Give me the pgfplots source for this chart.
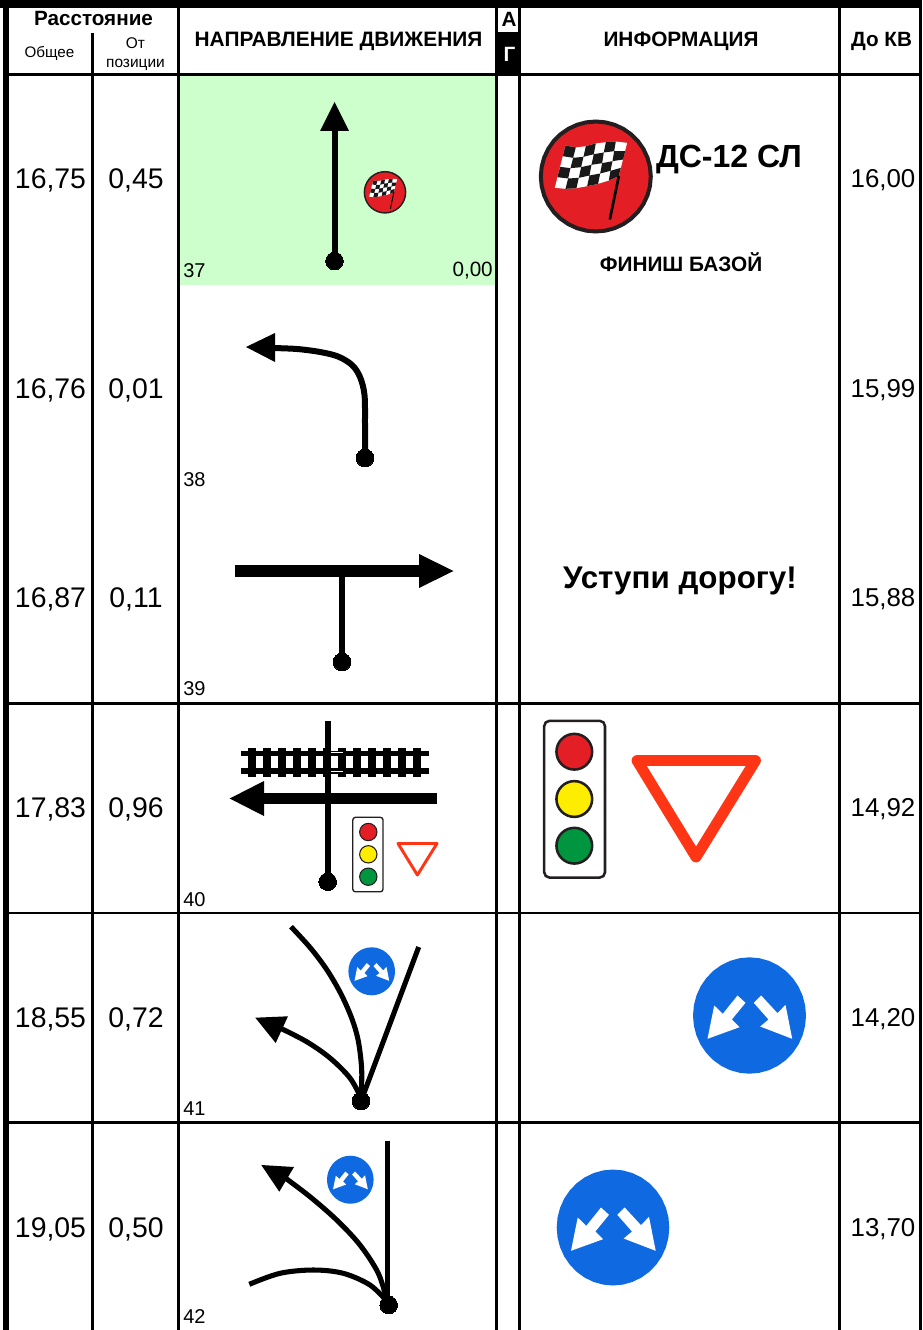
\documentclass[border=0pt]{standalone}
\usepackage{fontspec}
\setmainfont{Liberation Sans}
\usepackage{pgfplots}
\usepackage{pgfplotstable}
\pgfplotsset{compat=1.18}
\definecolor{sred}{HTML}{E31E24}
\definecolor{syel}{HTML}{FFED00}
\definecolor{sgrn}{HTML}{009640}
\definecolor{sdark}{HTML}{231F20}
\definecolor{tri}{HTML}{FF3616}
\definecolor{sblue}{HTML}{0F69E0}
\definecolor{lgreen}{HTML}{CCFFCC}

\pgfplotstableread{
x y
1 0
.9848 .1736
.9397 .342
.866 .5
.766 .6428
.6428 .766
.5 .866
.342 .9397
.1736 .9848
0 1
-.1736 .9848
-.342 .9397
-.5 .866
-.6428 .766
-.766 .6428
-.866 .5
-.9397 .342
-.9848 .1736
-1 0
-.9848 -.1736
-.9397 -.342
-.866 -.5
-.766 -.6428
-.6428 -.766
-.5 -.866
-.342 -.9397
-.1736 -.9848
0 -1
.1736 -.9848
.342 -.9397
.5 -.866
.6428 -.766
.766 -.6428
.866 -.5
.9397 -.342
.9848 -.1736
1 0
}\uc
\pgfplotstableread{
x y
-42 23.3
-35.3 -10
-26.7 -1.7
-12 -20
-4 -12.7
-17.7 4
-10 11.7
}\signL
\pgfplotstableread{
x y
42.7 23.3
36 -10.7
28 -2.3
11.7 -20
4.3 -12.7
19 4
10.7 11
}\signR
\pgfplotstableread{
x y
47 48
78 54
108 50
138 42
168 38
198 36
232 40
207 140
177 153
145 163
112 170
80 176
47 178
15 175
}\flagW
\pgfplotstableread{
x y
47 48
78 54
70 85
39 80
nan nan
108 50
138 42
132 74
101 82
nan nan
168 38
198 36
193 65
162 69
nan nan
70 85
101 82
94 113
62 116
nan nan
132 74
162 69
157 101
125 106
nan nan
193 65
226 65
220 90
188 95
nan nan
31 112
62 116
55 147
23 143
nan nan
94 113
125 106
119 138
87 145
nan nan
157 101
188 95
182 124
151 132
nan nan
55 147
87 145
80 176
47 178
nan nan
119 138
151 132
145 163
112 170
nan nan
182 124
213 115
207 140
177 153
}\flagB
\pgfplotstableread{
x y
207 140
180 270
}\flagP

\newcommand{\seg}[3]{\addplot[black,line width=#1pt,line cap=butt] coordinates {#2 #3};}
\newcommand{\crv}[2]{\addplot[black,line width=#1pt,smooth,tension=0.55] coordinates {#2};}
\newcommand{\poly}[2]{\addplot[fill=#1,draw=none] coordinates {#2};}
\newcommand{\rct}[5]{\addplot[fill=#5,draw=none] coordinates {(#1,#2) (#3,#2) (#3,#4) (#1,#4)};}
\newcommand{\dotm}[2]{\addplot[only marks,mark=*,mark size=6.6pt,mark options={fill=black,draw=black,line width=0pt}] coordinates {(#1,#2)};}
\newcommand{\lamp}[6]{\addplot[only marks,mark=*,mark size=#4pt,mark options={fill=#3,draw=#6,line width=#5pt}] coordinates {(#1,#2)};}
\newcommand{\txt}[5]{\node[anchor=#4,inner sep=0pt] at (axis cs:#1,#2) {\fontsize{#3}{#3}\selectfont #5};}
% cx cy scale radius(px)
\newcommand{\blue}[4]{%
  \addplot[fill=sblue,draw=none] table[x expr=\thisrow{x}*#4+#1,y expr=\thisrow{y}*#4*1.03+#2] {\uc};
  \addplot[fill=white,draw=none] table[x expr=\thisrow{x}*#3+#1,y expr=\thisrow{y}*#3+#2] {\signL};
  \addplot[fill=white,draw=none] table[x expr=\thisrow{x}*#3+#1,y expr=\thisrow{y}*#3+#2] {\signR};
}
% cx cy scale radius(px) border(pt) pole(pt)
\newcommand{\flagsign}[6]{%
  \addplot[fill=sred,draw=sdark,line width=#5pt] table[x expr=\thisrow{x}*#4+#1,y expr=\thisrow{y}*#4+#2] {\uc};
  \addplot[fill=white,draw=none] table[x expr=(\thisrow{x}-138)/3*#3+#1,y expr=(\thisrow{y}-141)/3*#3+#2] {\flagW};
  \addplot[fill=black!90,draw=none,unbounded coords=jump] table[x expr=(\thisrow{x}-138)/3*#3+#1,y expr=(\thisrow{y}-141)/3*#3+#2] {\flagB};
  \addplot[black,line width=#6pt] table[x expr=(\thisrow{x}-138)/3*#3+#1,y expr=(\thisrow{y}-141)/3*#3+#2] {\flagP};
}

\begin{document}
\begin{tikzpicture}
\begin{axis}[
  scale only axis, width=691.5pt, height=997.5pt,
  xmin=0, xmax=922, ymin=0, ymax=1330, y dir=reverse,
  hide axis, clip=true]

% green cell
\rct{180}{76}{495}{285}{lgreen}

% table grid
\rct{0}{0}{922}{8}{black}
\rct{3.4}{0}{8.8}{1330}{black}
\rct{919}{0}{922}{1330}{black}
\rct{91.3}{33}{93.7}{1330}{black}
\rct{177.3}{0}{180}{1330}{black}
\rct{495}{0}{498}{1330}{black}
\rct{518}{0}{521}{1330}{black}
\rct{838}{0}{841}{1330}{black}
\rct{3.4}{73.2}{922}{76.2}{black}
\rct{3.4}{702}{922}{705}{black}
\rct{3.4}{911.7}{922}{914.4}{black}
\rct{3.4}{1121.3}{922}{1124}{black}
\rct{498}{32}{518}{74}{black}

% row 37
\seg{4.5}{(334.5,261)}{(334.5,128)}
\poly{black}{(334.5,102) (349,131) (320,131)}
\dotm{334.5}{261}
\flagsign{385}{192.3}{0.386}{20.6}{1.1}{0.7}
\flagsign{595.8}{176.5}{1}{55}{3}{2}

% row 38
\crv{4.5}{(365,458) (365,425) (364.5,395) (360,377) (352,365) (338,356.5) (320,352) (297,349) (272,348)}
\poly{black}{(246,347) (275,333) (275,362)}
\dotm{365}{458}

% row 39
\rct{235}{565}{420}{577}{black}
\poly{black}{(453.5,571) (419,554) (419,588)}
\seg{4.5}{(342,571)}{(342,662)}
\dotm{342}{662}

% row 40
\seg{4}{(241,753.5)}{(429,753.5)}
\seg{4}{(241,771)}{(429,771)}
\rct{247.7}{747.7}{255.7}{777}{black}
\rct{262.7}{747.7}{270.7}{777}{black}
\rct{277.7}{747.7}{285.7}{777}{black}
\rct{292.7}{747.7}{300.7}{777}{black}
\rct{307.7}{747.7}{315.7}{777}{black}
\rct{322.7}{747.7}{330.7}{777}{black}
\rct{338.3}{747.7}{346.3}{777}{black}
\rct{352.7}{747.7}{360.7}{777}{black}
\rct{367.7}{747.7}{375.7}{777}{black}
\rct{383.3}{747.7}{391.3}{777}{black}
\rct{397.7}{747.7}{405.7}{777}{black}
\rct{412.7}{747.7}{420.7}{777}{black}
\addplot[white,line width=0.5pt] coordinates {(331,752.7) (343,752.7)};
\addplot[white,line width=0.5pt] coordinates {(331,771.2) (343,771.2)};
\seg{4.2}{(327.7,721)}{(327.7,882)}
\rct{264}{792.7}{437}{804.3}{black}
\poly{black}{(229.7,798.5) (264,781) (264,816)}
\dotm{327.7}{881.7}
\addplot[sdark,line width=1pt,fill=white,rounded corners=2pt] coordinates {(368,817.3) (383,817.3) (383,891.8) (352.8,891.8) (352.8,817.3) (368,817.3)};
\lamp{368.3}{832}{sred}{6.5}{0.8}{sdark}
\lamp{368.3}{854.3}{syel}{6.5}{0.8}{sdark}
\lamp{368.3}{876.7}{sgrn}{6.5}{0.8}{sdark}
\addplot[tri,line width=2.2pt,line join=round] coordinates {(398,843.5) (437,843.5) (417.4,875) (398,843.5) (437,843.5)};

% big signal and triangle
\addplot[sdark,line width=1.9pt,fill=white,rounded corners=4pt] coordinates {(575,720.8) (605,720.8) (605,877.6) (544.2,877.6) (544.2,720.8) (575,720.8)};
\lamp{574.3}{751.7}{sred}{13.4}{1.9}{sdark}
\lamp{574.3}{799}{syel}{13.4}{1.9}{sdark}
\lamp{574.3}{845.7}{sgrn}{13.4}{1.9}{sdark}
\addplot[tri,line width=8.2pt,line join=round] coordinates {(637,760.5) (755.5,760.5) (696,857) (637,760.5) (755.5,760.5)};

% row 41
\crv{3.8}{(361,1101) (361.7,1070) (358.3,1041) (352,1019) (341,994) (327,970) (310.5,948) (291,926.7)}
\seg{3.8}{(361,1101)}{(418.7,947)}
\crv{3.8}{(361,1098) (350,1078) (330,1058) (306.7,1041.7) (280,1028)}
\poly{black}{(255.3,1017.7) (288,1016.3) (275.7,1043)}
\dotm{361}{1101}
\blue{371.7}{971.3}{0.41}{23.3}
\blue{749.5}{1015.5}{1}{56.5}

% row 42
\seg{4.2}{(387.3,1140.7)}{(387.3,1305)}
\crv{3.8}{(387.3,1301.7) (378.3,1273.3) (360,1245) (336.7,1220) (310,1196.7) (284,1177)}
\poly{black}{(261.3,1165) (294,1167) (279.3,1191.7)}
\crv{3.8}{(387.3,1301.7) (370,1285) (343.3,1273.3) (313.3,1270) (280,1273.3) (249.3,1284.3)}
\dotm{388.7}{1305}
\blue{350.3}{1179.7}{0.41}{23.3}
\blue{613}{1227.5}{1}{56.3}

% header text
\txt{93.5}{18.5}{15.5pt}{center}{\textbf{Расстояние}}
\txt{49.5}{53}{11.4pt}{center}{Общее}
\txt{135.5}{43.5}{11.6pt}{center}{От}
\txt{135.5}{64.5}{11.6pt}{center}{позиции}
\txt{338.5}{41.5}{15.65pt}{center}{\textbf{НАПРАВЛЕНИЕ ДВИЖЕНИЯ}}
\txt{681}{41.5}{15.6pt}{center}{\textbf{ИНФОРМАЦИЯ}}
\txt{881.5}{41.5}{15.5pt}{center}{\textbf{До КВ}}
\txt{509}{19}{15.5pt}{center}{\textbf{А}}
\node[anchor=center,inner sep=0pt,text=white] at (axis cs:509.5,54) {\fontsize{15.5pt}{15.5pt}\selectfont\textbf{Г}};

% distances
\txt{50.5}{180}{21.3pt}{center}{16,75}
\txt{136}{180}{21.3pt}{center}{0,45}
\txt{883}{180}{19.4pt}{center}{16,00}
\txt{50.5}{390}{21.3pt}{center}{16,76}
\txt{136}{390}{21.3pt}{center}{0,01}
\txt{883}{390}{19.4pt}{center}{15,99}
\txt{50.5}{599}{21.3pt}{center}{16,87}
\txt{136}{599}{21.3pt}{center}{0,11}
\txt{883}{599}{19.4pt}{center}{15,88}
\txt{50.5}{809}{21.3pt}{center}{17,83}
\txt{136}{809}{21.3pt}{center}{0,96}
\txt{883}{809}{19.4pt}{center}{14,92}
\txt{50.5}{1019}{21.3pt}{center}{18,55}
\txt{136}{1019}{21.3pt}{center}{0,72}
\txt{883}{1019}{19.4pt}{center}{14,20}
\txt{50.5}{1229}{21.3pt}{center}{19,05}
\txt{136}{1229}{21.3pt}{center}{0,50}
\txt{883}{1229}{19.4pt}{center}{13,70}

% position numbers
\txt{183}{270.5}{15pt}{west}{37}
\txt{493}{270.5}{15.5pt}{east}{0,00}
\txt{183}{479.5}{15pt}{west}{38}
\txt{183}{688.5}{15pt}{west}{39}
\txt{183}{899.5}{15pt}{west}{40}
\txt{183}{1108.5}{15pt}{west}{41}
\txt{183}{1316.5}{15pt}{west}{42}

% info text
\txt{729}{160}{24pt}{center}{\textbf{ДС-12 СЛ}}
\txt{681}{262}{15.6pt}{center}{\textbf{ФИНИШ БАЗОЙ}}
\txt{680}{581}{23.5pt}{center}{\textbf{Уступи дорогу!}}
\end{axis}
\end{tikzpicture}
\end{document}
